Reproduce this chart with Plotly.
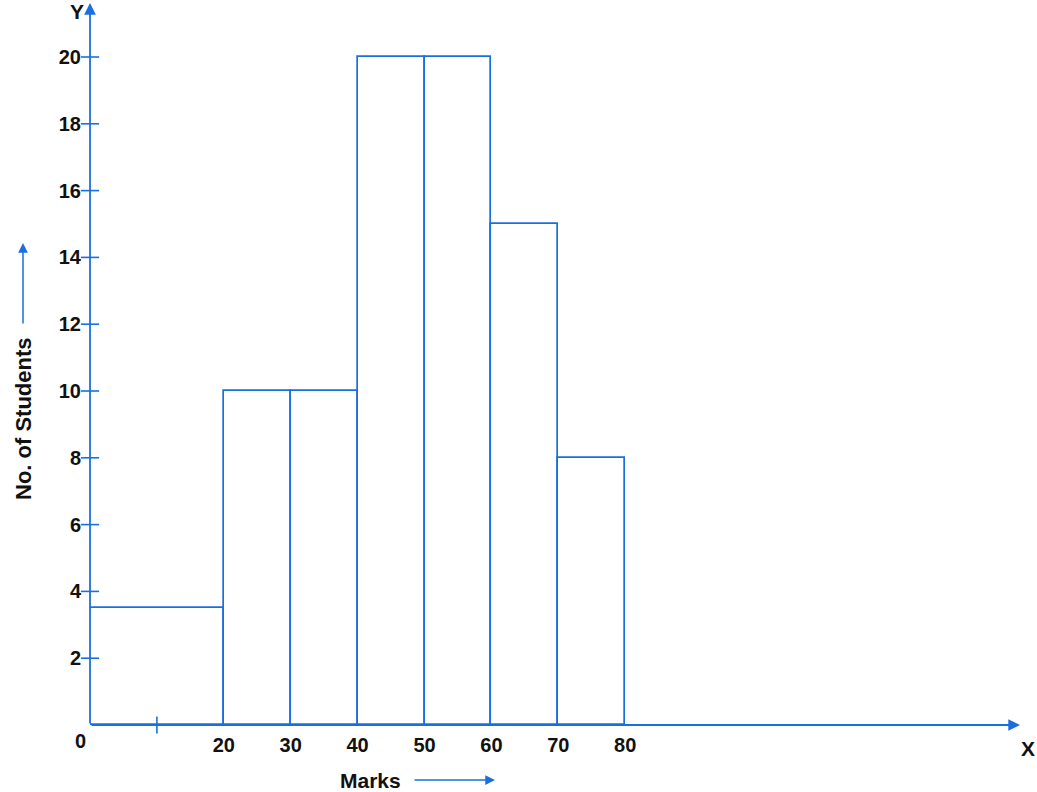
import plotly.graph_objects as go

# Data
class_start = [0, 20, 30, 40, 50, 60, 70]
class_end = [20, 30, 40, 50, 60, 70, 80]
students = [3.5, 10, 10, 20, 20, 15, 8]
x_tick_vals = [20, 30, 40, 50, 60, 70, 80]
y_tick_vals = [2, 4, 6, 8, 10, 12, 14, 16, 18, 20]

LINE = "#1a6fe0"
ARROW = "#1448cc"
FONT = "Liberation Sans, Arial, sans-serif"
TXT = "#111111"

mids = [(a + b) / 2 for a, b in zip(class_start, class_end)]
widths = [b - a for a, b in zip(class_start, class_end)]

L, R, T, B = 90, 17, 3, 67
PW, PH = 1037 - L - R, 792 - T - B
XMAX = PW / 6.69
YMAX = PH / 33.4

fig = go.Figure()
fig.add_trace(go.Bar(
    x=mids, y=students, width=widths,
    marker=dict(color="white", line=dict(color=LINE, width=1.7)),
    hoverinfo="skip",
))
# y-axis crossing ticks
fig.add_trace(go.Scatter(
    x=[0] * len(y_tick_vals), y=y_tick_vals, mode="markers",
    marker=dict(symbol="line-ew", size=13, line=dict(color=LINE, width=1.6)),
    hoverinfo="skip", cliponaxis=False,
))
# x-axis tick at 10
fig.add_trace(go.Scatter(
    x=[10], y=[0], mode="markers",
    marker=dict(symbol="line-ns", size=12, line=dict(color=LINE, width=1.6)),
    hoverinfo="skip", cliponaxis=False,
))

tf = dict(size=20, color=TXT, weight="bold")
fig.update_layout(
    width=1037, height=792,
    margin=dict(l=L, r=R, t=T, b=B, autoexpand=False),
    paper_bgcolor="white", plot_bgcolor="white",
    showlegend=False,
    bargap=0,
    font=dict(family=FONT, size=20, color=TXT),
    xaxis=dict(range=[0, XMAX], tickvals=x_tick_vals, ticktext=[str(v) for v in x_tick_vals],
               showgrid=False, zeroline=False, showline=False,
               ticks="outside", ticklen=2, tickcolor="rgba(0,0,0,0)", tickfont=tf),
    yaxis=dict(range=[0, YMAX], tickvals=y_tick_vals, ticktext=[str(v) for v in y_tick_vals],
               showgrid=False, zeroline=False, showline=False,
               ticks="outside", ticklen=4, tickcolor="rgba(0,0,0,0)", tickfont=tf),
)

# axis lines with arrowheads
fig.add_annotation(x=XMAX, y=0, ax=0, ay=0, xref="x", yref="y", axref="x", ayref="y",
                   showarrow=True, arrowhead=2, arrowsize=1.3, arrowwidth=1.8,
                   arrowcolor=LINE, text="")
fig.add_annotation(x=0, y=YMAX, ax=0, ay=0, xref="x", yref="y", axref="x", ayref="y",
                   showarrow=True, arrowhead=2, arrowsize=1.3, arrowwidth=1.8,
                   arrowcolor=LINE, text="")


def px(xp, yp):
    return (xp - L) / PW, (792 - B - yp) / PH


for txt, xp, yp, sz in [("0", 80, 741, 20), ("Y", 77, 12, 21), ("X", 1028, 748, 21)]:
    xx, yy = px(xp, yp)
    fig.add_annotation(x=xx, y=yy, xref="paper", yref="paper", text=txt, showarrow=False,
                       font=dict(size=sz, color=TXT, weight="bold"), xanchor="center", yanchor="middle")

# y title with arrow
xx, yy = px(23, 419)
fig.add_annotation(x=xx, y=yy, xref="paper", yref="paper", text="No. of Students", textangle=-90,
                   showarrow=False, font=dict(size=22, color=TXT, weight="bold"),
                   xanchor="center", yanchor="middle")
x1, y1 = px(23, 243)
fig.add_annotation(x=x1, y=y1, ax=0, ay=82, xref="paper", yref="paper", axref="pixel", ayref="pixel",
                   showarrow=True, arrowhead=2, arrowsize=1.3, arrowwidth=1.5, arrowcolor=LINE, text="")

# x title with arrow
xx, yy = px(370, 780)
fig.add_annotation(x=xx, y=yy, xref="paper", yref="paper", text="Marks",
                   showarrow=False, font=dict(size=21, color=TXT, weight="bold"),
                   xanchor="center", yanchor="middle")
x1, y1 = px(495, 780)
fig.add_annotation(x=x1, y=y1, ax=-82, ay=0, xref="paper", yref="paper", axref="pixel", ayref="pixel",
                   showarrow=True, arrowhead=2, arrowsize=1.3, arrowwidth=1.5, arrowcolor=LINE, text="")

fig.write_html("out.html", config={"displayModeBar": False},
               post_script="document.body.style.margin='0';")
